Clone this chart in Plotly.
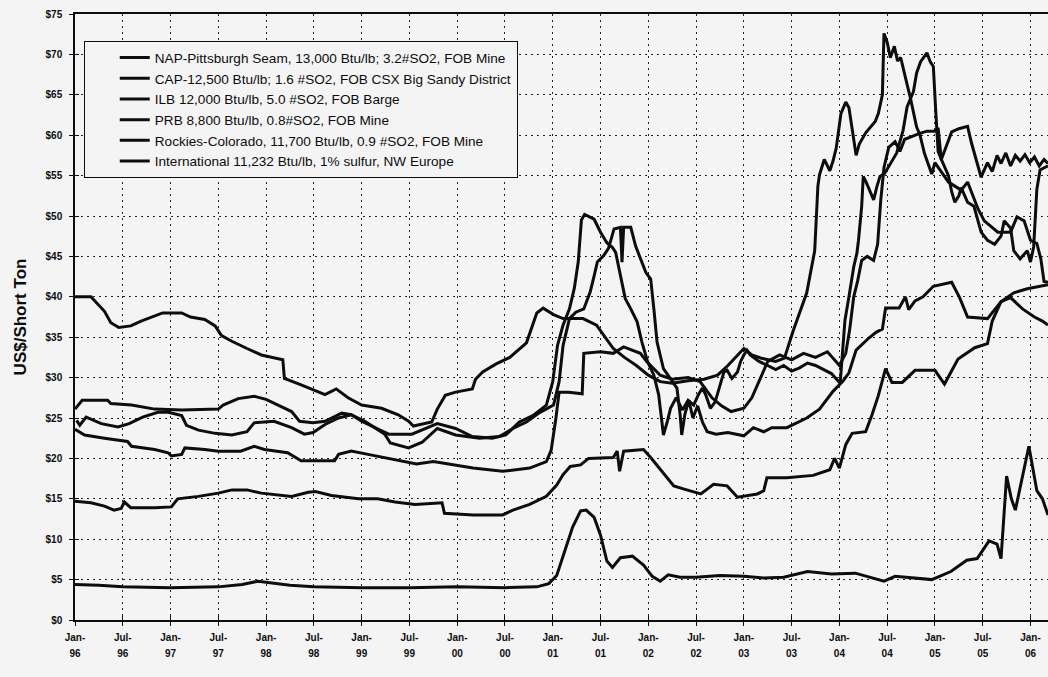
import plotly.graph_objects as go

# x values: months since Jan-1996; y values: US$/short ton
nap_m = [0.2, 0.6, 1.4, 3.3, 5.4, 6.8, 8.5, 10.4, 11.7, 13.4, 14, 15.5, 17.6, 19.7, 21.6, 22.5, 25, 27.2, 28.8, 29.9, 31.4, 33.1, 34.7, 36.4, 38.9, 39.6, 41.9, 43.6, 45.5, 47.8, 50.8, 53.3, 55, 56.7, 58.4, 60.1, 60.8, 61.3, 62.1, 62.9, 63.9, 64.7, 65.2, 65.6, 66.4, 67, 67.7, 68.5, 68.7, 68.9, 69.8, 70.4, 71.7, 72.3, 72.7, 73.1, 73.9, 75, 75.6, 76, 76.2, 76.6, 77.1, 77.6, 78.2, 78.8, 79.4, 80.5, 82, 84, 85.2, 86.5, 87.5, 89.4, 91.9, 93.5, 95.2, 96.4, 97.2, 98.1, 99.7, 100.6, 101.4, 101.8, 103.5, 104.3, 104.7, 105.5, 106.5, 107.8, 110.1, 111.1, 112.1, 114.6, 115.6, 116.3, 117.5, 119, 120.5, 121.5, 122.2]
nap_v = [24.7, 24.1, 25.1, 24.3, 23.9, 24.3, 25.1, 25.7, 25.7, 25.3, 24.1, 23.5, 23.1, 22.9, 23.3, 24.4, 24.6, 23.8, 23.0, 23.2, 24.2, 25.0, 25.4, 24.6, 23.0, 21.9, 21.3, 22.0, 23.7, 22.9, 22.5, 22.7, 23.7, 24.5, 25.7, 26.6, 29.5, 34.0, 37.3, 38.1, 38.5, 40.6, 42.6, 44.3, 45.1, 46.0, 48.4, 48.6, 44.3, 48.6, 48.6, 46.3, 43.0, 42.2, 38.5, 34.4, 31.1, 29.5, 28.7, 25.4, 22.9, 25.5, 27.2, 25.0, 26.5, 24.5, 23.3, 23.0, 23.2, 22.8, 23.8, 23.3, 23.8, 23.8, 25.0, 26.1, 28.3, 29.5, 30.6, 33.4, 34.9, 35.6, 36.0, 38.6, 38.6, 40.0, 38.4, 39.5, 40.0, 41.3, 41.8, 39.9, 37.5, 37.3, 38.5, 39.4, 39.9, 38.5, 37.5, 37.0, 36.5]

cap_m = [0, 0.9, 4.1, 4.5, 7.1, 10, 13.4, 18, 18.6, 20.5, 22.5, 24, 25.5, 27.2, 28.2, 29.9, 31.4, 33.5, 34.7, 36, 39.4, 42.3, 45.5, 47.8, 49.9, 52.4, 54.1, 55.8, 57.5, 59.2, 60, 60.6, 61.3, 62.1, 62.7, 63.2, 63.6, 64, 65.2, 66, 66.8, 67.5, 67.9, 68.5, 69.1, 69.8, 70.6, 71.2, 71.9, 72.7, 73.3, 73.7, 73.9, 74.4, 74.8, 75.5, 76.3, 77.0, 77.7, 78.3, 78.8, 79.2, 79.8, 80.4, 81.1, 81.5, 81.9, 82.5, 83.2, 83.6, 84.0, 84.4, 84.8, 85.9, 87, 88, 89, 90, 91, 92, 93, 94, 95, 96.1, 96.7, 97.2, 97.8, 98.2, 98.4, 98.8, 99.0, 99.4, 99.9, 100.3, 100.7, 101.1, 101.7, 103.2, 104.0, 104.5, 105.3, 105.7, 106.2, 107.0, 107.4, 107.8, 108.1, 108.4, 108.8, 109.4, 110.1, 111, 112.1, 112.6, 113.4, 113.8, 114.6, 115.2, 115.8, 116.3, 116.9, 117.5, 118.1, 118.7, 119.3, 119.9, 120.5, 121.1, 121.7, 122.2]
cap_v = [26.1, 27.2, 27.2, 26.8, 26.6, 26.1, 26.0, 26.1, 26.6, 27.4, 27.7, 27.3, 26.6, 25.8, 24.6, 24.4, 24.6, 25.6, 25.4, 24.6, 23.0, 23.0, 24.3, 23.7, 22.7, 22.5, 22.9, 24.5, 25.3, 26.6, 29.5, 34.0, 36.5, 38.5, 41.0, 44.3, 49.5, 50.2, 49.6, 48.0, 46.7, 46.1, 45.5, 42.6, 39.8, 38.5, 36.9, 34.4, 32.0, 30.3, 27.9, 24.6, 22.9, 24.6, 26.2, 27.5, 26.0, 27.2, 26.6, 27.9, 28.7, 27.9, 26.2, 27.0, 29.5, 30.7, 30.9, 29.9, 30.7, 32.0, 32.8, 33.4, 32.8, 32.0, 31.5, 31.0, 31.5, 30.8, 31.2, 31.8, 31.5, 31.0, 30.5, 29.3, 37.1, 40.0, 43.7, 45.4, 47.0, 51.2, 54.9, 54.1, 52.8, 52.0, 53.6, 54.9, 55.3, 57.8, 60.6, 63.5, 65.4, 67.7, 69.1, 70.2, 69.1, 68.5, 63.0, 58.0, 57.0, 58.5, 60.4, 60.8, 61.1, 59.0, 56.1, 54.8, 56.6, 55.5, 57.5, 56.5, 57.8, 56.2, 57.5, 56.8, 57.6, 56.6, 57.3, 56.2, 57.0, 56.5]

ilb_m = [0, 1.2, 3.7, 6.6, 7.1, 10, 11.7, 12.1, 13.4, 13.8, 16.3, 18, 20.8, 22.5, 23.8, 26.7, 28.4, 30.9, 32.6, 33.1, 34.7, 36.8, 38.9, 40.6, 42.9, 45, 47.8, 50, 53.7, 57.1, 59.2, 59.8, 60.4, 60.8, 62, 63.7, 63.9, 66, 67.6, 68.9, 71, 71.8, 73.5, 75, 77, 78.5, 80, 81.2, 82.4, 84, 85, 85.7, 87, 88.5, 90, 91.5, 93, 94.5, 96, 96.8, 97.3, 97.8, 98.3, 98.8, 99.5, 100.3, 100.8, 101.2, 101.6, 102.2, 103, 103.6, 104.2, 105, 106, 107, 108, 108.4, 108.8, 109.7, 110.1, 110.5, 111, 111.3, 112.1, 112.9, 113.4, 113.8, 114.6, 115.5, 116.3, 116.7, 117.5, 117.9, 118.7, 119.6, 120, 120.4, 120.8, 121.2, 122.2]
ilb_v = [23.6, 22.9, 22.5, 22.1, 21.5, 21.1, 20.7, 20.3, 20.5, 21.3, 21.1, 20.9, 20.9, 21.5, 21.1, 20.7, 19.7, 19.7, 19.7, 20.5, 20.9, 20.5, 20.1, 19.7, 19.3, 19.6, 19.2, 18.8, 18.4, 18.8, 19.6, 21.0, 25.0, 28.2, 28.2, 28.0, 33.0, 33.2, 33.0, 33.8, 33.0, 32.0, 30.3, 29.8, 30.0, 29.5, 27.5, 26.5, 25.8, 26.2, 27.5, 29.1, 32.0, 32.8, 32.2, 33.0, 32.5, 33.2, 31.5, 33.0, 36.0, 40.0, 42.0, 44.5, 45.0, 44.5, 46.5, 52.0, 56.0, 58.5, 59.2, 58.0, 59.5, 59.8, 60.2, 60.5, 60.5, 60.9, 57.0, 55.0, 53.0, 51.7, 52.5, 53.5, 51.7, 51.2, 49.4, 48.0, 47.0, 46.5, 47.5, 49.4, 48.5, 45.7, 44.7, 45.7, 44.3, 46.2, 53.3, 55.7, 56.2]

prb_m = [0, 3, 6, 12, 18, 21, 23, 24.5, 27, 30, 36, 42, 48, 54, 58, 59.5, 60.5, 61.5, 62.5, 63.5, 64.2, 65.2, 66, 66.8, 67.5, 68.5, 70, 71.4, 72.5, 73.5, 74.5, 76, 78, 81, 84, 86.5, 89, 92, 95, 98, 101.6, 103, 107.6, 110, 112, 113.3, 114.8, 115.8, 116.3, 117, 117.6, 118.1, 119.2, 119.8, 120.8, 121.5, 122.2]
prb_v = [4.4, 4.3, 4.1, 4.0, 4.1, 4.4, 4.8, 4.6, 4.3, 4.1, 4.0, 4.0, 4.1, 4.0, 4.1, 4.5, 5.5, 8.5, 11.5, 13.5, 13.6, 12.7, 10.5, 7.3, 6.5, 7.7, 7.9, 6.8, 5.4, 4.8, 5.6, 5.3, 5.3, 5.5, 5.4, 5.2, 5.3, 6.0, 5.7, 5.8, 4.8, 5.4, 5.0, 6.0, 7.4, 7.6, 9.8, 9.4, 7.6, 17.8, 15.0, 13.6, 19.0, 21.5, 16.0, 15.0, 13.0]

rck_m = [0, 2, 3.7, 4.9, 5.8, 6.2, 7, 10, 12.1, 12.9, 15.5, 18, 19.7, 21.6, 23.4, 27.2, 29.3, 30.2, 32.2, 35.6, 38, 40.2, 42.7, 46.1, 46.4, 50, 53.7, 55, 57.1, 59.2, 60.5, 61.3, 62.2, 63.5, 64.5, 67.6, 68.1, 68.4, 68.9, 71.4, 72.3, 73.9, 75.2, 76.5, 78.6, 80.2, 81.9, 83.2, 85.7, 86.5, 86.9, 89.4, 92.7, 94.8, 95.4, 96, 96.8, 97.6, 99.3, 100.1, 100.9, 101.8, 102.6, 103.9, 105.5, 108, 109.2, 110.9, 113, 114.6, 115.2, 116.3, 117.9, 119.6, 121.2, 122.2]
rck_v = [14.7, 14.5, 14.1, 13.6, 13.8, 14.6, 13.9, 13.9, 14.0, 15.0, 15.3, 15.7, 16.1, 16.1, 15.7, 15.3, 15.8, 15.9, 15.4, 15.0, 15.0, 14.6, 14.3, 14.5, 13.2, 13.0, 13.0, 13.6, 14.3, 15.3, 16.7, 18.0, 19.0, 19.2, 20.0, 20.1, 20.9, 18.4, 20.9, 21.1, 20.1, 18.2, 16.6, 16.2, 15.6, 16.8, 16.6, 15.2, 15.6, 16.0, 17.6, 17.6, 17.9, 18.6, 20.0, 18.8, 21.7, 23.1, 23.3, 25.4, 27.8, 31.1, 29.4, 29.4, 30.9, 30.9, 29.2, 32.3, 33.7, 34.2, 37.0, 39.4, 40.5, 41.0, 41.3, 41.5]

intl_m = [0, 2, 3.7, 4.5, 5.5, 7, 8.3, 10, 11, 13.4, 14.5, 16.3, 17.6, 18.4, 19.7, 21.6, 23.4, 26.1, 26.3, 28.4, 31.4, 32.8, 34.3, 36, 38.5, 40.6, 41.9, 42.5, 44.8, 45.5, 46.5, 47.8, 49.9, 50.3, 51.2, 52.9, 54.6, 56.7, 58, 58.8, 60.1, 61.3, 63.8, 65.5, 66.7, 67.6, 69, 70.5, 72, 73.5, 75, 77, 79, 80.7, 82, 84, 85, 86.2, 88, 89.1, 90.2, 91.9, 92.9, 93.3, 93.5, 94.1, 94.8, 95.2, 95.6, 96.2, 96.8, 97.2, 97.6, 98.1, 98.5, 99.3, 100.5, 100.9, 101.4, 101.6, 102, 102.4, 102.9, 103.3, 103.7, 104.1, 104.5, 104.9, 105.3, 105.7, 106.1, 106.7, 107.6, 108, 109.7, 111.3, 112.1, 113.4, 114.2, 115.9, 117.5, 118.3, 119.2, 120, 120.8, 121.3, 121.7, 122.2]
intl_v = [40.0, 40.0, 38.2, 36.8, 36.2, 36.4, 37.0, 37.6, 38.0, 38.0, 37.5, 37.2, 36.4, 35.2, 34.5, 33.6, 32.8, 32.2, 29.9, 29.1, 27.9, 28.6, 27.5, 26.6, 26.2, 25.4, 24.6, 24.0, 24.5, 26.1, 27.8, 28.2, 28.6, 29.8, 30.7, 31.7, 32.5, 34.3, 38.0, 38.6, 37.8, 37.3, 37.3, 36.5, 34.8, 33.6, 32.5, 31.5, 30.3, 29.5, 29.3, 29.6, 29.8, 30.3, 31.5, 33.6, 32.8, 32.4, 32.0, 32.4, 35.8, 40.5, 45.7, 53.7, 55.1, 57.0, 55.6, 56.8, 58.4, 62.7, 64.1, 63.4, 60.8, 57.5, 58.9, 60.3, 61.7, 62.7, 65.0, 72.6, 71.5, 69.6, 71.0, 69.2, 69.6, 68.1, 66.3, 64.7, 62.6, 61.0, 60.1, 57.7, 55.2, 56.6, 54.2, 53.2, 54.2, 50.9, 49.4, 48.0, 48.0, 49.9, 49.4, 47.0, 46.6, 44.7, 41.9, 41.8]

series_names = [
    "NAP-Pittsburgh Seam, 13,000 Btu/lb; 3.2#SO2, FOB Mine",
    "CAP-12,500 Btu/lb; 1.6 #SO2, FOB CSX Big Sandy District",
    "ILB 12,000 Btu/lb, 5.0 #SO2, FOB Barge",
    "PRB 8,800 Btu/lb, 0.8#SO2, FOB Mine",
    "Rockies-Colorado, 11,700 Btu/lb, 0.9 #SO2, FOB Mine",
    "International 11,232 Btu/lb, 1% sulfur, NW Europe",
]
series_x = [nap_m, cap_m, ilb_m, prb_m, rck_m, intl_m]
series_y = [nap_v, cap_v, ilb_v, prb_v, rck_v, intl_v]

tick_months = list(range(0, 121, 6))
month_labels = ["Jan-" if t % 12 == 0 else "Jul-" for t in tick_months]
year_labels = ["%02d" % ((96 + t // 12) % 100) for t in tick_months]
y_ticks = list(range(0, 76, 5))
y_labels = ["$%d" % v for v in y_ticks]

BG = "#f4f4f4"
INK = "#0d0d0d"
TICKFONT = dict(size=10, weight="bold", family="Liberation Sans Narrow, Liberation Sans, Arial", color=INK)

fig = go.Figure()
for name, xs, ys in zip(series_names, series_x, series_y):
    assert len(xs) == len(ys), (name, len(xs), len(ys))
    fig.add_trace(go.Scatter(x=xs, y=ys, mode="lines", name=name,
                             line=dict(color=INK, width=3)))
# empty helper trace so the overlay axes (year labels, inner tick marks) are drawn
fig.add_trace(go.Scatter(x=[], y=[], xaxis="x2", yaxis="y2", showlegend=False, hoverinfo="skip"))

fig.update_layout(
    width=1048, height=677,
    margin=dict(l=75, r=0, t=14, b=57),
    paper_bgcolor=BG, plot_bgcolor=BG,
    font=dict(family="Liberation Sans, Arial, sans-serif", color=INK),
    showlegend=True,
    legend=dict(x=0.009, y=0.955, xanchor="left", yanchor="top",
                bgcolor=BG, bordercolor=INK, borderwidth=1,
                font=dict(size=13.6, family="Liberation Sans, Arial, sans-serif", color=INK),
                tracegroupgap=0, indentation=30),
    xaxis=dict(range=[0, 122.2], tickvals=tick_months, ticktext=month_labels,
               showgrid=True, gridcolor="#222", gridwidth=1.2, griddash="2px,4px",
               showline=True, linecolor=INK, linewidth=1.5, mirror=True,
               ticks="outside", ticklen=4, tickcolor=INK, tickwidth=1.2,
               ticklabelstandoff=3, tickfont=TICKFONT, zeroline=False),
    xaxis2=dict(range=[0, 122.2], overlaying="x", anchor="y", side="bottom",
                tickvals=tick_months, ticktext=year_labels,
                showgrid=False, showline=False, zeroline=False,
                ticks="inside", ticklen=4, tickcolor=INK, tickwidth=1.2,
                ticklabelstandoff=26, tickfont=TICKFONT),
    yaxis=dict(range=[0, 75], tickvals=y_ticks, ticktext=y_labels,
               showgrid=True, gridcolor="#222", gridwidth=1.2, griddash="2px,4px",
               showline=True, linecolor=INK, linewidth=1.5,
               ticks="outside", ticklen=4, tickcolor=INK, tickwidth=1.2,
               ticklabelstandoff=5, tickfont=TICKFONT,
               title=dict(text="US$/Short Ton", font=dict(size=17, weight="bold", color=INK), standoff=15),
               zeroline=False),
    yaxis2=dict(range=[0, 75], overlaying="y", anchor="x", side="left",
                tickvals=y_ticks, showticklabels=False,
                showgrid=False, showline=False, zeroline=False,
                ticks="inside", ticklen=4, tickcolor=INK, tickwidth=1.2),
)

fig.write_html("out.html", config={"displayModeBar": False},
               post_script="document.body.style.margin='0';document.body.style.background='%s';" % BG)
